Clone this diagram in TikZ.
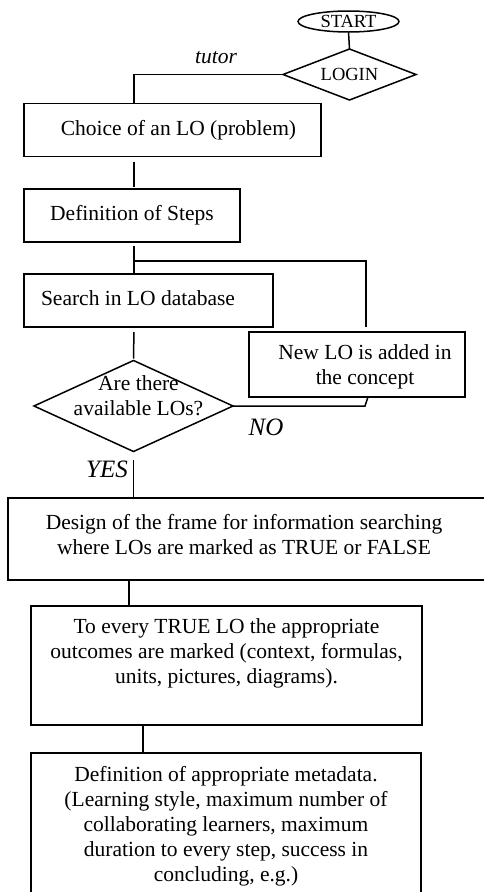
\documentclass[tikz,border=0pt]{standalone}
\usepackage{fontspec}
\setmainfont{Liberation Serif}
\usetikzlibrary{shapes.geometric}
\begin{document}
\begin{tikzpicture}[x=1pt,y=-1pt,
  every node/.style={inner sep=0pt, outer sep=0pt},
  big/.style={font=\fontsize{21.5}{25}\selectfont},
  small/.style={font=\fontsize{18.5}{21}\selectfont},
  lbl/.style={font=\fontsize{21.5}{25}\selectfont, align=center},
  tag/.style={font=\fontsize{25}{28}\selectfont\itshape},
  box/.style={draw, line width=1.5pt, rectangle, big},
  conn/.style={draw, line width=1.5pt}]
\useasboundingbox (0,0) rectangle (484,892);
\clip (0,0) rectangle (484,892);
\fill[white] (0,0) rectangle (484,892);

\node[draw, line width=1.5pt, ellipse, small, minimum width=101pt, minimum height=21pt] (start) at (348.5,21.5) {START};
\node[draw, line width=1.5pt, diamond, aspect=2.6, small, minimum width=133pt, minimum height=51pt] (login) at (349.5,74.5) {LOGIN};
\node[font=\fontsize{21.5}{25}\selectfont\itshape] (tutor) at (216,58) {tutor};

\node[box, minimum width=297pt, minimum height=53pt,
  label={[lbl,xshift=6pt]center:Choice of an LO (problem)}] (choice) at (172.5,130) {};
\node[box, minimum width=216pt, minimum height=53pt] (steps) at (132,215.5) {Definition of Steps};
\node[box, minimum width=249pt, minimum height=53pt,
  label={[lbl,anchor=west,xshift=17pt,yshift=2pt]west:Search in LO database}] (search) at (148.5,300.5) {};
\node[box, minimum width=216pt, minimum height=65pt,
  label={[lbl,xshift=8pt,yshift=-2pt]center:New LO is added in\\the concept}] (newlo) at (357,364.5) {};
\node[draw, line width=1.5pt, diamond, aspect=2.19, minimum width=199pt, minimum height=91pt,
  label={[lbl,xshift=5pt,yshift=10pt]center:Are there\\available LOs?}] (avail) at (133.5,406) {};
\node[tag] (no) at (266,427) {NO};
\node[tag] (yes) at (107,469) {YES};

\node[box, minimum width=492pt, minimum height=82pt,
  label={[lbl,xshift=-10pt,yshift=4.5pt]center:Design of the frame for information searching\\where LOs are marked as TRUE or FALSE}] (design) at (254,539) {};
\node[box, minimum width=391pt, minimum height=119pt,
  label={[lbl,yshift=12.5pt]center:To every TRUE LO the appropriate\\outcomes are marked (context, formulas,\\units, pictures, diagrams).}] (true) at (226.5,665.5) {};
\node[box, minimum width=390pt, minimum height=157pt,
  label={[lbl,yshift=5pt]center:Definition of appropriate metadata.\\(Learning style, maximum number of\\collaborating learners, maximum\\duration to every step, success in\\concluding, e.g.)}] (def) at (226,831.5) {};

\coordinate (colx) at (134,0);
\coordinate (j) at (134,261);
\coordinate (nx) at (366,0);
\coordinate (nb) at (365,408);
\coordinate (ne) at (368,397);

\draw[conn] (start.south) -- (login.north);
\draw[conn] (login.west) -- (login.west -| colx) -- (choice.north -| colx);
\draw[conn, shorten <=5pt, shorten >=2pt] (choice.south -| colx) -- (steps.north -| colx);
\draw[conn, shorten <=4pt, shorten >=1pt] (steps.south -| colx) -- (search.north -| colx);
\draw[conn, shorten >=5pt] (j) -- (j -| nx) -- (newlo.north -| nx);
\draw[conn, shorten <=5pt, shorten >=2pt] (search.south -| colx) -- (avail.north);
\draw[conn] (avail.east) -- (avail.east -| nb) -- (ne);
\draw[conn, shorten <=8pt] (avail.south) -- (design.north -| avail.south);
\draw[conn] (design.south -| 129,0) -- (true.north -| 129,0);
\draw[conn] (true.south -| 143,0) -- (def.north -| 143,0);
\end{tikzpicture}
\end{document}
